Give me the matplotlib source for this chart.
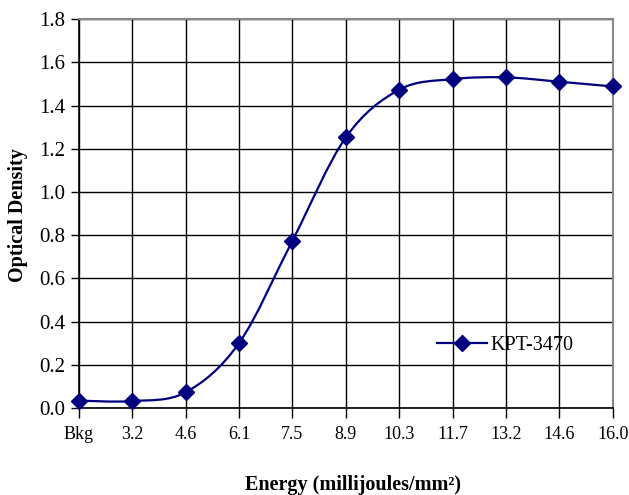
import matplotlib
matplotlib.use("Agg")
import matplotlib.pyplot as plt
from matplotlib.path import Path
from matplotlib.patches import PathPatch
from matplotlib.lines import Line2D

plt.rcParams["font.family"] = ["Liberation Serif", "DejaVu Serif"]

categories = ["Bkg", "3.2", "4.6", "6.1", "7.5", "8.9", "10.3", "11.7", "13.2", "14.6", "16.0"]
density = [0.034, 0.032, 0.073, 0.301, 0.775, 1.253, 1.474, 1.523, 1.531, 1.511, 1.489]
yticks = [0.0, 0.2, 0.4, 0.6, 0.8, 1.0, 1.2, 1.4, 1.6, 1.8]

NAVY = "#000080"


def smooth_path(xs, ys):
    # Excel style smoothed line: cubic bezier segments, control points from neighbours
    n = len(xs)
    verts = [(xs[0], ys[0])]
    codes = [Path.MOVETO]
    for i in range(n - 1):
        x0, y0 = (xs[i - 1], ys[i - 1]) if i > 0 else (xs[i], ys[i])
        x1, y1 = xs[i], ys[i]
        x2, y2 = xs[i + 1], ys[i + 1]
        x3, y3 = (xs[i + 2], ys[i + 2]) if i + 2 < n else (x2, y2)
        c1 = (x1 + (x2 - x0) / 6.0, y1 + (y2 - y0) / 6.0)
        c2 = (x2 - (x3 - x1) / 6.0, y2 - (y3 - y1) / 6.0)
        verts += [c1, c2, (x2, y2)]
        codes += [Path.CURVE4] * 3
    return Path(verts, codes)


fig = plt.figure(figsize=(6.29, 4.95), dpi=100)
ax = fig.add_axes([0.1256, 0.1758, 0.974 - 0.1256, 0.961 - 0.1758])

xs = list(range(len(categories)))
ax.add_patch(PathPatch(smooth_path(xs, density), facecolor="none",
                       edgecolor=NAVY, lw=1.6, zorder=3, clip_on=False))
ax.plot(xs, density, linestyle="none", marker="D", markersize=8.5,
        color=NAVY, zorder=4, clip_on=False)

ax.set_xlim(0, len(categories) - 1)
ax.set_ylim(0, 1.8)
ax.set_xticks(xs)
ax.set_xticklabels(categories, fontsize=13)
ax.set_yticks(yticks)
ax.set_yticklabels([f"{v:.1f}" for v in yticks], fontsize=15)

ax.grid(True, color="black", lw=1.0)
ax.set_axisbelow(True)
for side in ["top", "right"]:
    ax.spines[side].set_color("#888888")
    ax.spines[side].set_linewidth(1.5)
for side in ["left", "bottom"]:
    ax.spines[side].set_color("black")
    ax.spines[side].set_linewidth(1.2)

ax.tick_params(axis="x", direction="out", length=7, width=1, pad=6)
ax.tick_params(axis="y", direction="out", length=6, width=1, pad=4)

fig.text(0.029, 0.566, "Optical Density", fontsize=14.5, fontweight="bold",
         rotation=90, ha="center", va="center")
fig.text(0.562, 0.02, "Energy (millijoules/mm\u00b2)", fontsize=14.5,
         fontweight="bold", ha="center", va="center")

handle = Line2D([], [], color=NAVY, lw=1.6, marker="D", markersize=8.5)
ax.legend([handle], ["KPT-3470"], loc="center left",
          bbox_to_anchor=(0.636, 0.16), frameon=False, fontsize=14.5,
          handlelength=2.5, handletextpad=0.2)

fig.savefig("out.png", dpi=100)
